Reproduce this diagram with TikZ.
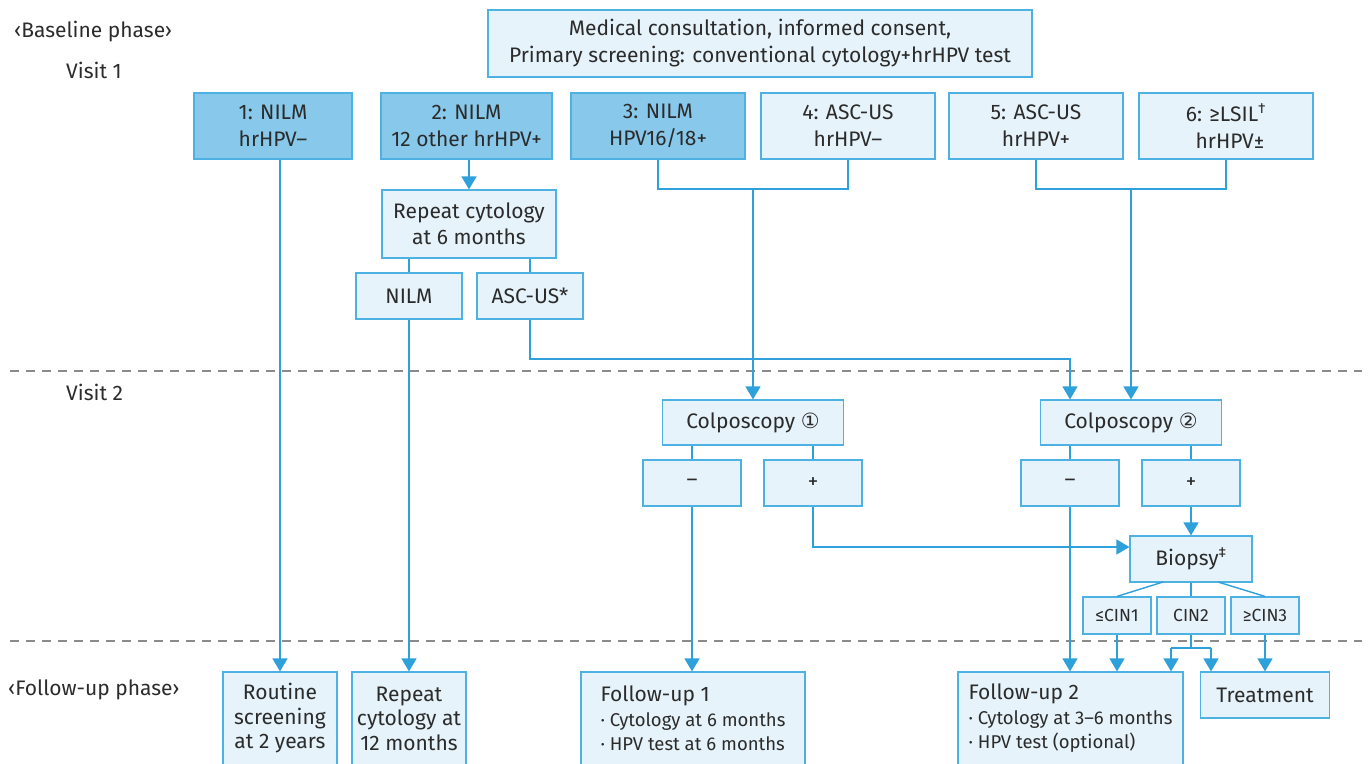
\documentclass[tikz,border=0pt]{standalone}
\usepackage{fontspec}
\setmainfont{Fira Sans}
\newfontfamily\dv{DejaVu Sans}
\usetikzlibrary{arrows.meta}
\definecolor{bcol}{HTML}{4DB1E3}
\definecolor{lcol}{HTML}{2EA0DA}
\definecolor{lfill}{HTML}{E6F3FA}
\definecolor{dfill}{HTML}{88C9EB}
\definecolor{tcol}{HTML}{2B2B2B}
\definecolor{dcol}{HTML}{8A8A8A}
\begin{document}
\begin{tikzpicture}[x=1pt,y=-1pt,
  box/.style={draw=bcol,fill=lfill,line width=1.2pt,inner sep=0pt,align=center,text=tcol,
    font={\fontsize{21}{27}\selectfont}},
  dbox/.style={box,fill=dfill},
  conn/.style={draw=lcol,line width=1.4pt},
  arr/.style={conn,-{Triangle[width=15pt,length=13pt]}},
  phase/.style={anchor=base west,text=tcol,inner sep=0pt,font={\fontsize{21}{24}\selectfont}},
  dashline/.style={draw=dcol,line width=1.3pt,dash pattern=on 9pt off 7pt}
]
\useasboundingbox (0,0) rectangle (1368,763);

% phase labels
\node[phase] (lbase) at (14,37) {‹Baseline phase›};
\node[phase] (lv1) at (66,78) {Visit 1};
\node[phase] (lv2) at (66,400) {Visit 2};
\node[phase] (lfu) at (8,695) {‹Follow-up phase›};

% dashed separators
\coordinate (d1a) at (10,371);
\coordinate (d1b) at (1362,371);
\coordinate (d2a) at (10,641);
\coordinate (d2b) at (1362,641);
\draw[dashline] (d1a) -- (d1b);
\draw[dashline] (d2a) -- (d2b);

% top box
\node[box,minimum width=544pt,minimum height=67pt] (top) at (760,43.5)
  {Medical consultation, informed consent,\\Primary screening: conventional cytology+hrHPV test};

% row 1
\node[dbox,minimum width=158pt,minimum height=66pt] (b1) at (273,126) {1: NILM\\hrHPV–};
\node[dbox,minimum width=171pt,minimum height=66pt] (b2) at (466.5,126) {2: NILM\\12 other hrHPV+};
\node[dbox,minimum width=174pt,minimum height=66pt] (b3) at (658,126) {3: NILM\\HPV16/18+};
\node[box,minimum width=174pt,minimum height=66pt] (b4) at (848,126) {4: ASC-US\\hrHPV–};
\node[box,minimum width=174pt,minimum height=66pt] (b5) at (1036,126) {5: ASC-US\\hrHPV+};
\node[box,minimum width=174pt,minimum height=66pt] (b6) at (1226,126) {6: ≥LSIL\textsuperscript{†}\\\hspace*{8pt}hrHPV±};

% repeat cytology
\node[box,minimum width=174pt,minimum height=68pt,font={\fontsize{21}{26}\selectfont}] (rep) at (469,224) {Repeat cytology\\at 6 months};
\node[box,minimum width=106pt,minimum height=46pt] (nilm) at (409,296) {NILM};
\node[box,minimum width=106pt,minimum height=46pt] (asc) at (530,296) {ASC-US*};

% colposcopies
\node[box,minimum width=181pt,minimum height=45pt] (c1) at (753,422.5) {Colposcopy {\dv ①}};
\node[box,minimum width=181pt,minimum height=45pt] (c2) at (1131,422.5) {Colposcopy {\dv ②}};
\node[box,minimum width=98pt,minimum height=46pt] (m1) at (692,483) {–};
\node[box,minimum width=98pt,minimum height=46pt] (p1) at (813,483) {+};
\node[box,minimum width=98pt,minimum height=46pt] (m2) at (1070,483) {–};
\node[box,minimum width=98pt,minimum height=46pt] (p2) at (1191,483) {+};

% biopsy
\node[box,minimum width=122pt,minimum height=46pt] (bio) at (1191,559) {Biopsy\textsuperscript{‡}};
\node[box,minimum width=68pt,minimum height=37pt,font={\fontsize{17.5}{20}\selectfont}] (cin1) at (1117,615.5) {≤CIN1};
\node[box,minimum width=68pt,minimum height=37pt,font={\fontsize{17.5}{20}\selectfont}] (cin2) at (1191,615.5) {CIN2};
\node[box,minimum width=68pt,minimum height=37pt,font={\fontsize{17.5}{20}\selectfont}] (cin3) at (1265,615.5) {≥CIN3};

% follow-up boxes
\node[box,minimum width=114pt,minimum height=93pt,font={\fontsize{21}{24.5}\selectfont}] (rout) at (280,718.5) {Routine\\screening\\at 2 years};
\node[box,minimum width=114pt,minimum height=93pt,font={\fontsize{21}{24.5}\selectfont}] (rep12) at (409,718.5) {Repeat\\cytology at\\12 months};
\node[box,minimum width=224pt,minimum height=93pt,align=left,
  font={\fontsize{18.5}{24.5}\selectfont}] (fu1) at (693,718.5)
  {{\fontsize{21}{24.5}\selectfont Follow-up 1}\\· Cytology at 6 months\\· HPV test at 6 months};
\node[box,minimum width=225pt,minimum height=93pt,align=left,
  font={\fontsize{18.5}{24.5}\selectfont}] (fu2) at (1070.5,718.5)
  {{\fontsize{21}{24.5}\selectfont Follow-up 2}\\· Cytology at 3–6 months\\· HPV test (optional)};
\node[box,minimum width=129pt,minimum height=46pt] (treat) at (1265,695) {Treatment};

% connectors
\draw[arr] (b1.south -| rout.north) -- (rout.north);
\draw[arr] (b2.south -| rep.north) -- (rep.north);
\draw[conn] (rep.south -| nilm.north) -- (nilm.north);
\draw[conn] (rep.south -| asc.north) -- (asc.north);
\draw[arr] (nilm.south) -- (rep12.north);
\coordinate (j1) at (1070,359);
\draw[arr] (asc.south) |- (j1) -- (j1 |- c2.north);

\coordinate (h1) at (753,189);
\coordinate (h2) at (1131,189);
\draw[conn] (b3.south) |- (h1) -| (b4.south);
\draw[arr] (h1) -- (c1.north);
\draw[conn] (b5.south) |- (h2) -| (b6.south);
\draw[arr] (h2) -- (c2.north);

\draw[conn] (c1.south -| m1.north) -- (m1.north);
\draw[conn] (c1.south -| p1.north) -- (p1.north);
\draw[conn] (c2.south -| m2.north) -- (m2.north);
\draw[conn] (c2.south -| p2.north) -- (p2.north);

\draw[arr] (m1.south) -- (m1.south |- fu1.north);
\coordinate (j2) at (813,547);
\draw[arr] (p1.south) -- (j2) -- (j2 -| bio.west);
\draw[arr] (m2.south) -- (m2.south |- fu2.north);
\draw[arr] (p2.south) -- (bio.north);

\coordinate (bl) at (1163,582);
\coordinate (br) at (1218,582);
\draw[conn] (bl) -- (cin1.north);
\draw[conn] (bio.south) -- (cin2.north);
\draw[conn] (br) -- (cin3.north);

\draw[arr] (cin1.south) -- (cin1.south |- fu2.north);
\coordinate (k0) at (1191,648);
\coordinate (kl) at (1171,648);
\coordinate (kr) at (1211,648);
\draw[conn] (cin2.south) -- (k0);
\draw[conn] (kl) -- (kr);
\draw[arr] (kl) -- (kl |- fu2.north);
\draw[arr] (kr) -- (kr |- treat.north);
\draw[arr] (cin3.south) -- (treat.north);
\end{tikzpicture}
\end{document}
